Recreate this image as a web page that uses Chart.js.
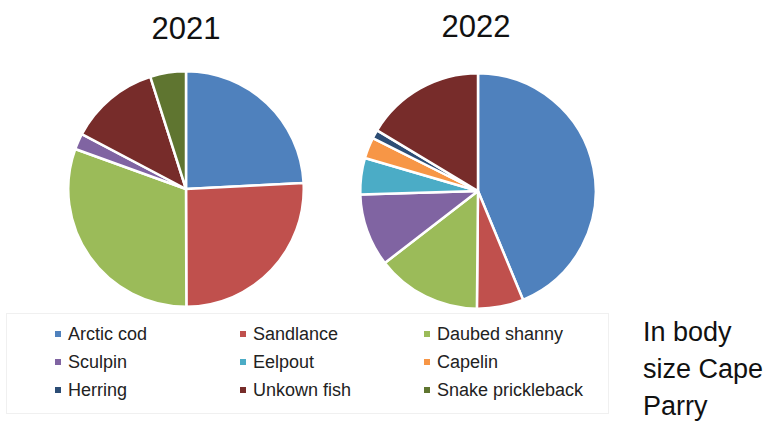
<!DOCTYPE html>
<html>
<head>
<meta charset="utf-8">
<script src="https://cdn.jsdelivr.net/npm/chart.js@4/dist/chart.umd.min.js"></script>
<style>
  html, body { margin: 0; padding: 0; background: #fff; }
  #wrap { position: relative; width: 783px; height: 423px; overflow: hidden; background: #fff;
          font-family: "Liberation Sans", Arial, sans-serif; }
  canvas { position: absolute; }
  .title { position: absolute; font-size: 31px; color: #111; width: 120px; text-align: center; line-height: 30px; }
  #legendBox { position: absolute; left: 6px; top: 313px; width: 601px; height: 99px;
               border: 1px solid #f0f0f0; }
  .li { position: absolute; font-size: 18px; color: #222; line-height: 20px; white-space: nowrap; }
  .mk { position: absolute; width: 6px; height: 6px; }
  #note { position: absolute; left: 643px; top: 314px; font-size: 27px; line-height: 37px; color: #111; }
</style>
</head>
<body>
<div id="wrap">
  <div class="title" id="t1" style="left:126px; top:14px;"></div>
  <div class="title" id="t2" style="left:416px; top:12px;"></div>
  <canvas id="c1" width="240" height="240" style="left:66px; top:69px;"></canvas>
  <canvas id="c2" width="240" height="240" style="left:358px; top:71px;"></canvas>
  <div id="legendBox"></div>
  <div id="legend"></div>
  <div id="note">In body<br>size Cape<br>Parry</div>
</div>
<script>
const categories = ["Arctic cod", "Sandlance", "Daubed shanny", "Sculpin", "Eelpout", "Capelin", "Herring", "Unkown fish", "Snake prickleback"];
const years = ["2021", "2022"];
const values2021 = [24.2, 25.8, 30.6, 2.2, 0, 0, 0, 12.4, 4.9];
const values2022 = [43.8, 6.4, 14.4, 10.0, 5.0, 2.9, 1.2, 16.4, 0];
const colors = ["#4F81BD", "#C0504D", "#9BBB59", "#8064A2", "#4BACC6", "#F79646", "#2C4D75", "#772C2A", "#5F7530"];

document.getElementById("t1").textContent = years[0];
document.getElementById("t2").textContent = years[1];

function makePie(id, data) {
  return new Chart(document.getElementById(id), {
    type: "pie",
    data: {
      labels: categories,
      datasets: [{ data: data, backgroundColor: colors, borderColor: "#ffffff", borderWidth: 2.5 }]
    },
    options: {
      responsive: false,
      animation: false,
      devicePixelRatio: 1,
      layout: { padding: 1 },
      plugins: { legend: { display: false }, tooltip: { enabled: false }, title: { display: false } }
    }
  });
}
makePie("c1", values2021);
makePie("c2", values2022);

// HTML legend built from the arrays
const colX = [55, 240, 424];
const rowY = [334, 362, 390];
const lg = document.getElementById("legend");
categories.forEach((name, i) => {
  const c = i % 3, r = Math.floor(i / 3);
  const mk = document.createElement("div");
  mk.className = "mk";
  mk.style.left = colX[c] + "px";
  mk.style.top = (rowY[r] - 3) + "px";
  mk.style.background = colors[i];
  lg.appendChild(mk);
  const tx = document.createElement("div");
  tx.className = "li";
  tx.style.left = (colX[c] + 13) + "px";
  tx.style.top = (rowY[r] - 10) + "px";
  tx.textContent = name;
  lg.appendChild(tx);
});
</script>
</body>
</html>
